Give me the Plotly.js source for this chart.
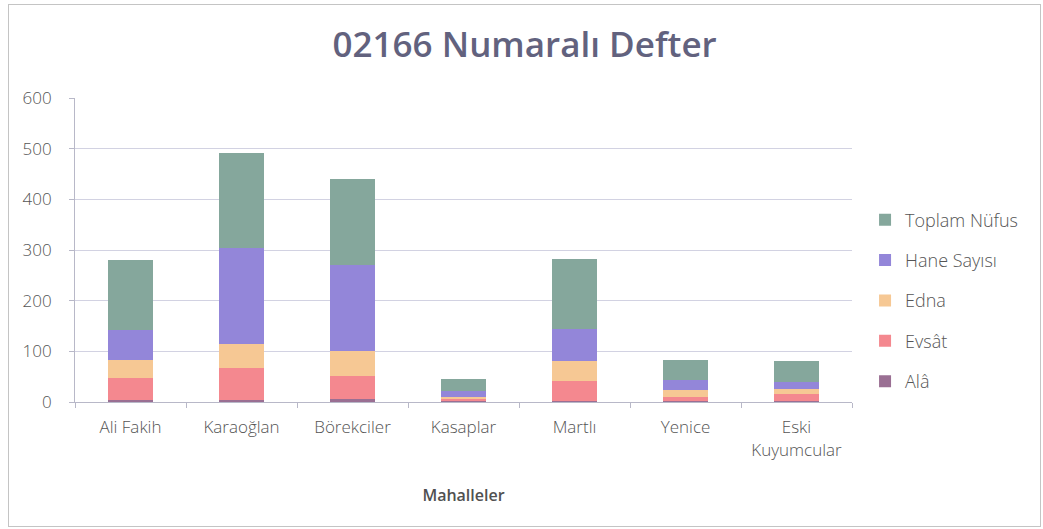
<!DOCTYPE html>
<html>
<head>
<meta charset="utf-8">
<script src="https://cdn.plot.ly/plotly-3.0.1.min.js"></script>
<style>
  html, body { margin: 0; padding: 0; background: #fff; }
  #wrap { position: relative; width: 1043px; height: 529px; }
  #frame { position: absolute; left: 8px; top: 4px; width: 1031px; height: 521px; border: 1px solid #c4c4c4; pointer-events: none; z-index: 5; }
  #chart { width: 1043px; height: 529px; }
</style>
</head>
<body>
<div id="wrap">
  <div id="chart"></div>
  <div id="frame"></div>
</div>
<script>
const categories = ["Ali Fakih", "Karaoğlan", "Börekciler", "Kasaplar", "Martlı", "Yenice", "Eski<br>Kuyumcular"];
const ala    = [3, 4, 6, 1, 1, 1, 1];
const evsat  = [44, 64, 45, 4, 40, 9, 15];
const edna   = [36, 46, 49, 4, 40, 14, 10];
const hane   = [59, 189, 171, 12, 64, 19, 14];
const toplam = [138, 188, 169, 24, 137, 40, 41];
const seriesNames = ["Alâ", "Evsât", "Edna", "Hane Sayısı", "Toplam Nüfus"];
const seriesColors = ["#9a6f93", "#f4888f", "#f6c894", "#9386d9", "#85a79c"];
const seriesValues = [ala, evsat, edna, hane, toplam];

const traces = seriesValues.map((vals, i) => ({
  type: "bar",
  name: seriesNames[i],
  x: categories,
  y: vals,
  width: 0.4,
  legendgroup: "g" + i,
  legendrank: 5 - i,
  marker: { color: seriesColors[i], line: { width: 0 } },
  hoverinfo: "x+y+name"
}));

const layout = {
  width: 1043,
  height: 529,
  barmode: "stack",
  paper_bgcolor: "#ffffff",
  plot_bgcolor: "#ffffff",
  margin: { l: 75, r: 191, t: 98, b: 127 },
  font: { family: "Open Sans, sans-serif", color: "#595959" },
  title: {
    text: "02166 Numaralı Defter",
    font: { family: "Open Sans, sans-serif", size: 35, color: "#62627e", weight: 600 },
    x: 0.503, xanchor: "center",
    y: 0.915, yanchor: "middle"
  },
  xaxis: {
    type: "category",
    showgrid: false,
    showline: true,
    linecolor: "#b8b8c8",
    linewidth: 1,
    ticks: "outside",
    tickson: "boundaries",
    ticklen: 5,
    tickcolor: "#b8b8c8",
    ticklabelstandoff: 10,
    tickfont: { size: 17, color: "#555555", weight: 300 },
    title: { text: "Mahalleler", font: { size: 16, color: "#505050", weight: 600 }, standoff: 30 }
  },
  yaxis: {
    range: [0, 600],
    dtick: 100,
    showgrid: true,
    gridcolor: "#d2d2e2",
    gridwidth: 1,
    showline: true,
    linecolor: "#b8b8c8",
    ticks: "outside",
    ticklen: 5,
    tickcolor: "#b8b8c8",
    ticklabelstandoff: 14,
    tickfont: { size: 17, color: "#555555", weight: 300 },
    zeroline: false
  },
  legend: {
    x: 1.0168, xanchor: "left",
    y: 0.334, yanchor: "middle",
    traceorder: "grouped",
    tracegroupgap: 14,
    font: { size: 18, color: "#555555", weight: 300 },
    itemwidth: 30
  },
  showlegend: true
};

Plotly.newPlot("chart", traces, layout, { displayModeBar: false, staticPlot: true });
</script>
</body>
</html>
